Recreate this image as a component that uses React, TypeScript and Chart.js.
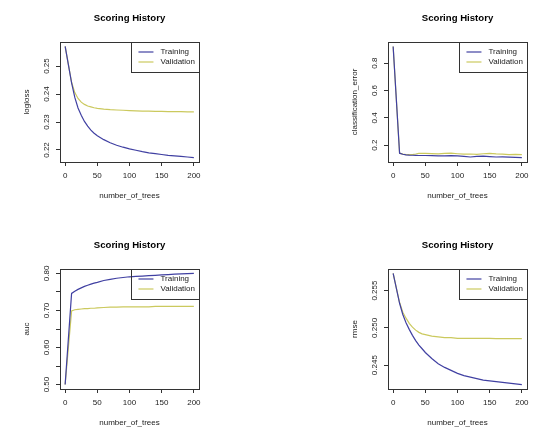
import React, { useEffect, useRef } from 'react';
import { Chart, registerables } from 'chart.js';

Chart.register(...registerables);

// ---------------- data ----------------
const trees = [0, 10, 15, 20, 25, 30, 35, 40, 45, 50, 60, 70, 80, 90, 100, 110, 120, 130, 140, 150, 160, 170, 180, 190, 200];

const loglossTraining = [0.2570, 0.2440, 0.2388, 0.2350, 0.2324, 0.2302, 0.2285, 0.2271, 0.2260, 0.2251, 0.2237, 0.2226, 0.2217, 0.2210, 0.2204, 0.2199, 0.2194, 0.2190, 0.2187, 0.2184, 0.2181, 0.2179, 0.2177, 0.2175, 0.2173];
const loglossValidation = [0.2570, 0.2442, 0.2405, 0.2384, 0.2371, 0.2363, 0.2357, 0.2354, 0.2351, 0.2349, 0.2346, 0.2344, 0.2343, 0.2342, 0.2341, 0.2340, 0.2339, 0.2339, 0.2338, 0.2338, 0.2337, 0.2337, 0.2337, 0.2336, 0.2336];

const classErrTraining = [0.923, 0.141, 0.133, 0.129, 0.127, 0.126, 0.125, 0.124, 0.124, 0.124, 0.123, 0.122, 0.121, 0.123, 0.122, 0.118, 0.113, 0.117, 0.119, 0.116, 0.113, 0.114, 0.112, 0.110, 0.109];
const classErrValidation = [0.923, 0.141, 0.134, 0.130, 0.130, 0.131, 0.135, 0.140, 0.140, 0.139, 0.138, 0.136, 0.139, 0.141, 0.137, 0.134, 0.135, 0.133, 0.137, 0.140, 0.136, 0.134, 0.131, 0.132, 0.131];

const aucTraining = [0.500, 0.746, 0.752, 0.757, 0.761, 0.765, 0.768, 0.771, 0.774, 0.776, 0.781, 0.784, 0.787, 0.789, 0.791, 0.792, 0.793, 0.794, 0.795, 0.796, 0.797, 0.798, 0.799, 0.7995, 0.800];
const aucValidation = [0.500, 0.699, 0.702, 0.703, 0.704, 0.705, 0.705, 0.706, 0.706, 0.707, 0.708, 0.709, 0.709, 0.710, 0.710, 0.710, 0.710, 0.710, 0.711, 0.711, 0.711, 0.711, 0.711, 0.711, 0.711];

const rmseTraining = [0.2573, 0.2533, 0.2518, 0.2507, 0.2498, 0.2490, 0.2483, 0.2477, 0.2472, 0.2467, 0.2459, 0.2452, 0.2447, 0.2443, 0.2439, 0.2436, 0.2434, 0.2432, 0.2430, 0.2429, 0.2428, 0.2427, 0.2426, 0.2425, 0.2424];
const rmseValidation = [0.2573, 0.2534, 0.2521, 0.2513, 0.2506, 0.2501, 0.2497, 0.2494, 0.2492, 0.2491, 0.2489, 0.2488, 0.2487, 0.2487, 0.2486, 0.2486, 0.2486, 0.2486, 0.2486, 0.24858, 0.24857, 0.24856, 0.24855, 0.24855, 0.24855];

const xTickValues = [0, 50, 100, 150, 200];
const xTickLabels = ['0', '50', '100', '150', '200'];

const loglossTicks = [0.22, 0.23, 0.24, 0.25];
const loglossTickLabels = ['0.22', '0.23', '0.24', '0.25'];
const classErrTicks = [0.2, 0.4, 0.6, 0.8];
const classErrTickLabels = ['0.2', '0.4', '0.6', '0.8'];
const aucTicks = [0.5, 0.55, 0.6, 0.65, 0.7, 0.75, 0.8];
const aucTickLabels = ['0.50', '', '0.60', '', '0.70', '', '0.80'];
const rmseTicks = [0.245, 0.25, 0.255];
const rmseTickLabels = ['0.245', '0.250', '0.255'];

const seriesNames = ['Training', 'Validation'];
const chartTitle = 'Scoring History';
const xAxisTitle = 'number_of_trees';

// ---------------- style ----------------
const FONT = '"Liberation Sans", Arial, Helvetica, sans-serif';
const FS = 8;
const TITLE_FS = 9.6;
const TRAIN_COLOR = '#4040a2';
const VALID_COLOR = '#cbc95e';
const INK = '#222222';
const FRAME = '#333333';

type Area = { l: number; r: number; t: number; b: number };
type Panel = {
  metric: string;
  training: number[];
  validation: number[];
  yTicks: number[];
  yLabels: string[];
  left: number;
  top: number;
  w: number;
  h: number;
  area: Area;
};

const panels: Panel[] = [
  { metric: 'logloss', training: loglossTraining, validation: loglossValidation, yTicks: loglossTicks, yLabels: loglossTickLabels, left: 0, top: 0, w: 270, h: 220, area: { l: 60, r: 199, t: 42, b: 162 } },
  { metric: 'classification_error', training: classErrTraining, validation: classErrValidation, yTicks: classErrTicks, yLabels: classErrTickLabels, left: 270, top: 0, w: 270, h: 220, area: { l: 118, r: 257, t: 42, b: 162 } },
  { metric: 'auc', training: aucTraining, validation: aucValidation, yTicks: aucTicks, yLabels: aucTickLabels, left: 0, top: 220, w: 270, h: 219, area: { l: 60, r: 199, t: 49, b: 169 } },
  { metric: 'rmse', training: rmseTraining, validation: rmseValidation, yTicks: rmseTicks, yLabels: rmseTickLabels, left: 270, top: 220, w: 270, h: 219, area: { l: 118, r: 257, t: 49, b: 169 } },
];

function measure(text: string, font: string): number {
  const c = document.createElement('canvas').getContext('2d');
  if (!c) return text.length * 4.5;
  c.font = font;
  return c.measureText(text).width;
}

function rExtent(values: number[]): [number, number] {
  const mn = Math.min(...values);
  const mx = Math.max(...values);
  const pad = (mx - mn) * 0.04;
  return [mn - pad, mx + pad];
}

const align = (v: number) => Math.round(v - 0.5) + 0.5;

const decorPlugin = {
  id: 'rdecor',
  afterDatasetsDraw(chart: any) {
    const { ctx, chartArea: a } = chart;
    ctx.save();
    // plot frame
    ctx.strokeStyle = FRAME;
    ctx.lineWidth = 1;
    const l = align(a.left), t = align(a.top), r = align(a.right), b = align(a.bottom);
    ctx.strokeRect(l, t, r - l, b - t);

    // main title
    ctx.fillStyle = '#000';
    ctx.font = `bold ${TITLE_FS}px ${FONT}`;
    ctx.textAlign = 'center';
    ctx.textBaseline = 'middle';
    ctx.fillText(chartTitle, (a.left + a.right) / 2, a.top - 24);

    // legend (top-right, no fill)
    ctx.font = `${FS}px ${FONT}`;
    const ds = chart.data.datasets;
    const tw = Math.max(...ds.map((d: any) => ctx.measureText(d.label).width));
    const lw = 29 + tw + 4;
    const lh = 29.5;
    const lx = a.right - lw;
    const ly = a.top;
    ctx.strokeStyle = FRAME;
    ctx.strokeRect(align(lx), t, r - align(lx), Math.round(lh));
    ds.forEach((d: any, i: number) => {
      const yy = ly + 10 + i * 10;
      ctx.strokeStyle = d.borderColor;
      ctx.lineWidth = 1.2;
      ctx.beginPath();
      ctx.moveTo(lx + 7, yy);
      ctx.lineTo(lx + 22, yy);
      ctx.stroke();
      ctx.fillStyle = INK;
      ctx.textAlign = 'left';
      ctx.textBaseline = 'middle';
      ctx.fillText(d.label, lx + 29, yy);
    });
    ctx.restore();
  },
};

function PanelChart({ p }: { p: Panel }) {
  const ref = useRef<HTMLCanvasElement | null>(null);

  useEffect(() => {
    if (!ref.current) return;
    const a = p.area;
    const [yMin, yMax] = rExtent([...p.training, ...p.validation]);
    const [xMin, xMax] = rExtent(trees);
    const labelFont = `${FS}px ${FONT}`;
    const widest = Math.max(...p.yLabels.map((s) => measure(s, labelFont)));
    const yTickPad = 13 - 4 - widest / 2;
    const lineH = FS * 1.2;

    const chart = new Chart(ref.current, {
      type: 'line',
      data: {
        datasets: [
          {
            label: seriesNames[0],
            data: trees.map((x, i) => ({ x, y: p.training[i] })),
            borderColor: TRAIN_COLOR,
            backgroundColor: TRAIN_COLOR,
            borderWidth: 1.2,
            pointRadius: 0,
            tension: 0,
            fill: false,
          },
          {
            label: seriesNames[1],
            data: trees.map((x, i) => ({ x, y: p.validation[i] })),
            borderColor: VALID_COLOR,
            backgroundColor: VALID_COLOR,
            borderWidth: 1.2,
            pointRadius: 0,
            tension: 0,
            fill: false,
          },
        ],
      },
      options: {
        animation: false,
        responsive: false,
        devicePixelRatio: 1,
        events: [],
        layout: { padding: { left: 0, top: a.t, right: p.w - a.r, bottom: 0 } },
        plugins: {
          legend: { display: false },
          title: { display: false },
          tooltip: { enabled: false },
        },
        scales: {
          x: {
            type: 'linear',
            position: 'bottom',
            min: xMin,
            max: xMax,
            afterBuildTicks: (scale: any) => {
              scale.ticks = xTickValues.map((v) => ({ value: v }));
            },
            afterFit: (scale: any) => {
              scale.height = p.h - a.b;
              scale.paddingLeft = 0;
              scale.paddingRight = 0;
              scale.paddingTop = 0;
              scale.paddingBottom = 0;
            },
            ticks: {
              autoSkip: false,
              maxRotation: 0,
              minRotation: 0,
              padding: 5,
              color: INK,
              font: { family: FONT, size: FS, lineHeight: 1.2 },
              callback: (v: any) => {
                const i = xTickValues.indexOf(Number(v));
                return i >= 0 ? xTickLabels[i] : '';
              },
            },
            grid: { drawOnChartArea: false, drawTicks: true, tickLength: 4, color: FRAME, lineWidth: 1 },
            border: { display: false },
            title: {
              display: true,
              text: xAxisTitle,
              color: INK,
              font: { family: FONT, size: FS, lineHeight: 1.2 },
              padding: { top: 0, bottom: p.h - (a.b + 34) - lineH / 2 },
            },
          },
          y: {
            type: 'linear',
            position: 'left',
            min: yMin,
            max: yMax,
            afterBuildTicks: (scale: any) => {
              scale.ticks = p.yTicks.map((v) => ({ value: v }));
            },
            afterFit: (scale: any) => {
              scale.width = a.l;
              scale.paddingLeft = 0;
              scale.paddingRight = 0;
              scale.paddingTop = 0;
              scale.paddingBottom = 0;
            },
            ticks: {
              autoSkip: false,
              minRotation: 90,
              maxRotation: 90,
              crossAlign: 'center',
              padding: yTickPad,
              color: INK,
              font: { family: FONT, size: FS, lineHeight: 1.2 },
              callback: (v: any) => {
                const i = p.yTicks.findIndex((t) => Math.abs(t - Number(v)) < 1e-9);
                return i >= 0 ? p.yLabels[i] : '';
              },
            },
            grid: { drawOnChartArea: false, drawTicks: true, tickLength: 4, color: FRAME, lineWidth: 1 },
            border: { display: false },
            title: {
              display: true,
              text: p.metric,
              color: INK,
              font: { family: FONT, size: FS, lineHeight: 1.2 },
              padding: { top: a.l - 33 - lineH / 2, bottom: 0 },
            },
          },
        },
      } as any,
      plugins: [decorPlugin],
    });
    return () => chart.destroy();
  }, [p]);

  return (
    <div style={{ position: 'absolute', left: p.left, top: p.top, width: p.w, height: p.h }}>
      <canvas ref={ref} width={p.w} height={p.h} style={{ width: p.w, height: p.h, display: 'block' }} />
    </div>
  );
}

export default function App() {
  return (
    <div style={{ position: 'absolute', left: 0, top: 0, width: 540, height: 439, background: '#fff', overflow: 'hidden' }}>
      {panels.map((p) => (
        <PanelChart key={p.metric} p={p} />
      ))}
    </div>
  );
}
